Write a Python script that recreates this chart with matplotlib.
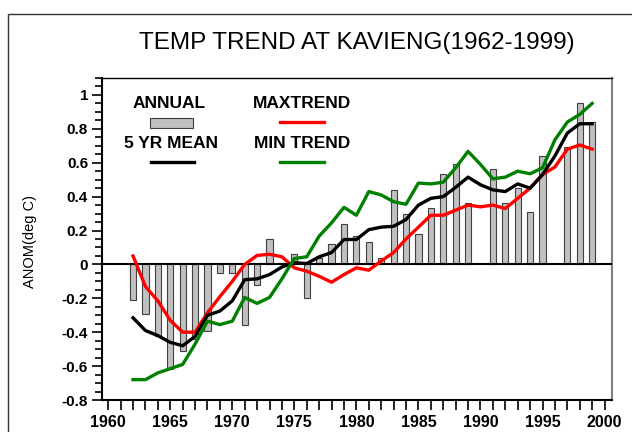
import numpy as np
import matplotlib
matplotlib.use("Agg")
import matplotlib.pyplot as plt
from matplotlib.patches import Rectangle
from matplotlib.lines import Line2D
from matplotlib.ticker import MultipleLocator, FuncFormatter

plt.rcParams['font.family'] = ['Liberation Sans', 'DejaVu Sans']

# annual anomalies (1990 and 1996 missing)
bar_years = [1962, 1963, 1964, 1965, 1966, 1967, 1968, 1969, 1970, 1971,
             1972, 1973, 1974, 1975, 1976, 1977, 1978, 1979, 1980, 1981,
             1982, 1983, 1984, 1985, 1986, 1987, 1988, 1989, 1991, 1992,
             1993, 1994, 1995, 1997, 1998, 1999]
annual = [-0.21, -0.29, -0.42, -0.62, -0.51, -0.44, -0.39, -0.05, -0.05, -0.36,
          -0.12, 0.15, 0.01, 0.06, -0.2, 0.035, 0.12, 0.24, 0.17, 0.13,
          0.04, 0.44, 0.30, 0.18, 0.335, 0.535, 0.59, 0.36, 0.565, 0.365,
          0.45, 0.31, 0.64, 0.69, 0.95, 0.84]

years = list(range(1962, 2000))
max_trend = [0.05, -0.13, -0.215, -0.33, -0.40, -0.40, -0.285, -0.19, -0.10, 0.0,
             0.053, 0.06, 0.045, -0.02, -0.04, -0.07, -0.105, -0.06, -0.02, -0.034,
             0.02, 0.07, 0.15, 0.22, 0.29, 0.29, 0.32, 0.35, 0.34, 0.35,
             0.33, 0.39, 0.45, 0.53, 0.575, 0.68, 0.705, 0.68]
mean5 = [-0.315, -0.39, -0.42, -0.46, -0.48, -0.425, -0.30, -0.275, -0.215, -0.09,
         -0.085, -0.06, -0.015, 0.01, 0.005, 0.045, 0.07, 0.147, 0.147, 0.205,
         0.22, 0.225, 0.265, 0.35, 0.39, 0.40, 0.455, 0.515, 0.47, 0.44,
         0.43, 0.475, 0.45, 0.53, 0.64, 0.775, 0.83, 0.83]
min_trend = [-0.68, -0.68, -0.64, -0.615, -0.59, -0.47, -0.335, -0.355, -0.335, -0.195,
             -0.23, -0.195, -0.085, 0.035, 0.045, 0.167, 0.245, 0.337, 0.29, 0.43,
             0.41, 0.37, 0.355, 0.48, 0.475, 0.485, 0.57, 0.667, 0.59, 0.505,
             0.515, 0.55, 0.535, 0.57, 0.735, 0.84, 0.885, 0.95]

W, H = 632, 432
fig = plt.figure(figsize=(W / 100, H / 100), dpi=100)
ax = fig.add_axes([102 / W, 1 - 400 / H, 510 / W, 322 / H])

# outer frame
fig.add_artist(Rectangle((8 / W, -0.2), 1.2, 1.2 - 14 / H, transform=fig.transFigure,
                         fill=False, edgecolor='#333333', lw=1.0))

ax.bar(bar_years, annual, width=0.5, color='#c0c0c0', edgecolor='#404040', lw=0.8, zorder=2)
ax.axhline(0, color='black', lw=1.5, zorder=3)
ax.plot(years, max_trend, color='#ff0000', lw=2.4, zorder=4)
ax.plot(years, mean5, color='black', lw=2.4, zorder=5)
ax.plot(years, min_trend, color='#008000', lw=2.4, zorder=6)

ax.set_xlim(1959.5, 2000.6)
ax.set_ylim(-0.8, 1.1)

ax.xaxis.set_major_locator(MultipleLocator(5))
ax.xaxis.set_minor_locator(MultipleLocator(1))
ax.yaxis.set_major_locator(MultipleLocator(0.2))
ax.yaxis.set_minor_locator(MultipleLocator(0.05))
ax.yaxis.set_major_formatter(FuncFormatter(lambda v, p: f"{round(v, 2):g}"))

ax.tick_params(axis='x', which='both', direction='out', length=7, width=1.2, labelsize=11.5, pad=4)
ax.tick_params(axis='y', which='major', direction='out', length=7, width=1.2, labelsize=11, pad=3)
ax.tick_params(axis='y', which='minor', direction='out', length=5, width=1.2)
for lab in ax.get_xticklabels() + ax.get_yticklabels():
    lab.set_fontweight('bold')

for s in ['left', 'bottom']:
    ax.spines[s].set_linewidth(1.5)
ax.spines['top'].set_linewidth(1.0)
ax.spines['right'].set_color('#808080')
ax.spines['right'].set_linewidth(1.5)

fig.text(357 / W, 1 - 43 / H, 'TEMP TREND AT KAVIENG(1962-1999)', ha='center', va='center', fontsize=17.5)
fig.text(30 / W, 1 - 241 / H, 'ANOM(deg C)', rotation=90, ha='center', va='center', fontsize=10.5)

# legend
def fx(x):
    return x / W

def fy(y):
    return 1 - y / H

leg_font = dict(ha='center', va='center', fontsize=12.5, fontweight='bold')
fig.text(fx(169), fy(104), 'ANNUAL', **leg_font)
fig.text(fx(302), fy(104), 'MAXTREND', **leg_font)
fig.text(fx(171), fy(143), '5 YR MEAN', **leg_font)
fig.text(fx(302), fy(143), 'MIN TREND', **leg_font)
fig.add_artist(Rectangle((fx(150), fy(128)), (193 - 150) / W, 10 / H, transform=fig.transFigure,
                         facecolor='#c0c0c0', edgecolor='#404040', lw=0.8))
fig.add_artist(Line2D([fx(280), fx(324)], [fy(122), fy(122)], transform=fig.transFigure, color='#ff0000', lw=2.4))
fig.add_artist(Line2D([fx(151), fx(194)], [fy(162), fy(162)], transform=fig.transFigure, color='black', lw=2.4))
fig.add_artist(Line2D([fx(280), fx(324)], [fy(162), fy(162)], transform=fig.transFigure, color='#008000', lw=2.4))

fig.savefig('out.png', dpi=100)
